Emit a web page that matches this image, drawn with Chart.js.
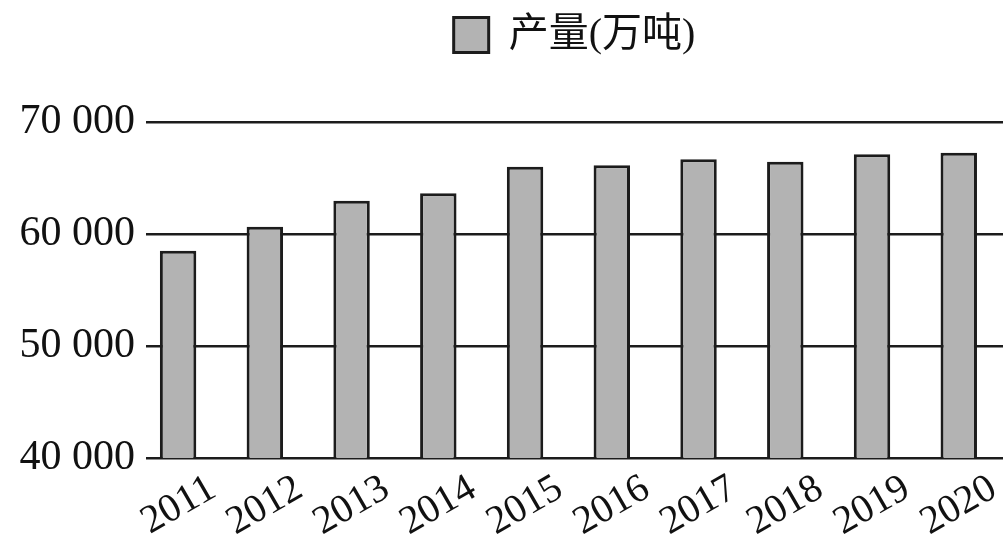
<!DOCTYPE html>
<html>
<head>
<meta charset="utf-8">
<script src="https://cdn.jsdelivr.net/npm/chart.js@4"></script>
<style>
  html, body { margin: 0; padding: 0; background: #fff; }
  #wrap { width: 1003px; height: 543px; }
</style>
</head>
<body>
<div id="wrap"><canvas id="chart"></canvas></div>
<script>
const years = ['2011', '2012', '2013', '2014', '2015', '2016', '2017', '2018', '2019', '2020'];
const output = [58500, 60650, 62970, 63630, 66010, 66130, 66670, 66460, 67110, 67260];
const yTicks = [40000, 50000, 60000, 70000];
const seriesName = '产量(万吨)';

document.addEventListener("DOMContentLoaded", function() {
    const ctx = document.getElementById("chart");
    const serif = '"Liberation Serif", "Noto Sans CJK SC", serif';

    // extra room under the legend
    const legendGap = {
        id: 'legendGap',
        beforeInit(chart) {
            const fit = chart.legend.fit;
            chart.legend.fit = function() {
                fit.bind(chart.legend)();
                this.height += 57;
            };
        }
    };

    new Chart(ctx, {
        type: 'bar',
        data: {
            datasets: [{
                label: seriesName,
                data: output.map((v, i) => ({ x: i, y: v })),
                backgroundColor: '#b3b3b3',
                borderColor: '#1c1c1c',
                borderWidth: 3,
                borderSkipped: 'bottom',
                categoryPercentage: 1,
                barPercentage: 0.42
            }]
        },
        options: {
            responsive: true,
            maintainAspectRatio: false,
            animation: false,
            layout: { padding: 0 },
            scales: {
                x: {
                    type: 'linear',
                    offset: false,
                    min: -0.37,
                    max: 9.51,
                    grid: { display: false, drawTicks: false },
                    border: { display: false },
                    afterBuildTicks: function(scale) {
                        // shift label anchors so the rotated text sits under each bar
                        scale.ticks = years.map((y, i) => ({ value: i + 0.4 }));
                    },
                    afterFit: function(scale) {
                        scale.height = 85;
                        scale.paddingLeft = 0;
                        scale.paddingRight = 0;
                    },
                    ticks: {
                        autoSkip: false,
                        minRotation: 30,
                        maxRotation: 30,
                        padding: 7,
                        color: '#111',
                        font: { family: serif, size: 40 },
                        callback: function(value, index) { return years[index]; }
                    }
                },
                y: {
                    min: 40000,
                    max: 70000,
                    afterBuildTicks: function(scale) {
                        scale.ticks = yTicks.map(v => ({ value: v }));
                    },
                    afterFit: function(scale) { scale.width = 146; },
                    grid: { color: '#1c1c1c', lineWidth: 2.5, drawTicks: false },
                    border: { display: false },
                    ticks: {
                        padding: 11,
                        color: '#111',
                        font: { family: serif, size: 42 },
                        callback: function(value) {
                            return String(value).replace(/\B(?=(\d{3})+(?!\d))/g, ' ');
                        }
                    }
                }
            },
            plugins: {
                tooltip: { enabled: false },
                legend: {
                    display: true,
                    position: 'top',
                    align: 'center',
                    fullSize: false,
                    labels: {
                        boxWidth: 35,
                        boxHeight: 35,
                        padding: 15,
                        color: '#111',
                        font: { family: serif, size: 40 }
                    }
                }
            }
        },
        plugins: [legendGap]
    });
});
</script>
</body>
</html>
